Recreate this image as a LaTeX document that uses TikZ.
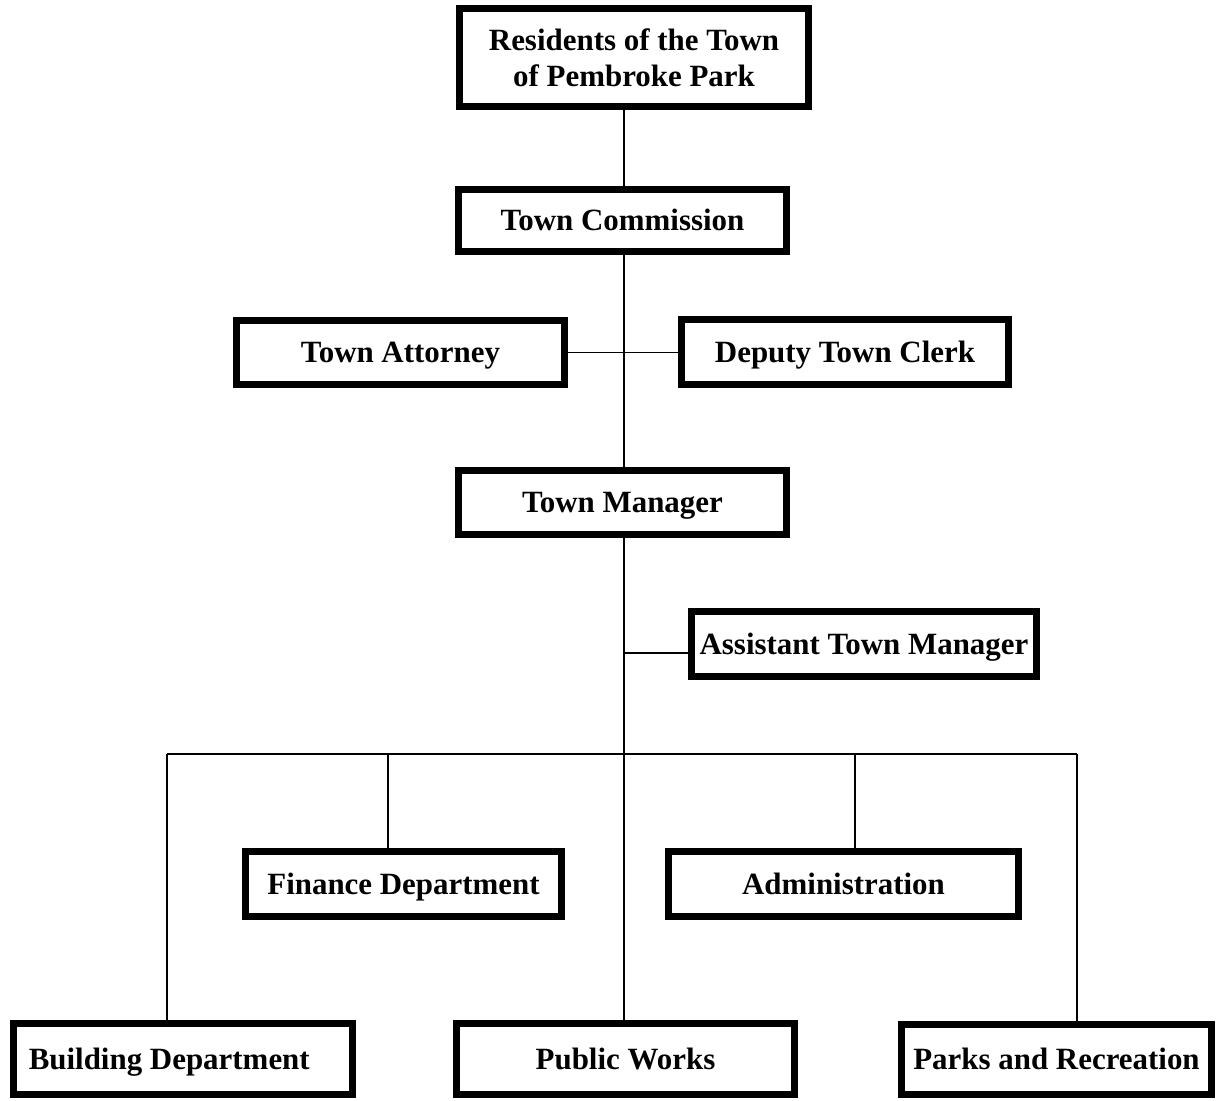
\documentclass[tikz,border=0pt]{standalone}
\usepackage{fontspec}
\setmainfont{Liberation Serif}
\begin{document}
\begin{tikzpicture}[line width=1pt,
    % Stil für die Kästen der Organe und Ämter
        office/.style={rectangle, draw=black, line width=4pt, fill=white, inner sep=0pt, outer sep=0pt, font=\fontsize{17.6}{20.5}\selectfont\bfseries},
    % einzeilige Kästen: Großbuchstaben senkrecht mittig
        unit/.style={office, text height=11.8pt, text depth=0pt},
    % Stil für die Verbindungslinien
        link/.style={draw=black, line width=1pt}]

        \useasboundingbox (0,0) rectangle (24.44,-22.02);

        % Kästen
        \node[office, align=center, minimum width=6.98cm, minimum height=1.96cm] (res) at (12.68,-1.15) {Residents of the Town\\of Pembroke Park};
        \node[unit, minimum width=6.56cm, minimum height=1.24cm] (com) at (12.45,-4.41) {Town Commission};
        \node[unit, minimum width=6.56cm, minimum height=1.28cm] (att) at (8.01,-7.05) {Town Attorney};
        \node[unit, minimum width=6.54cm, minimum height=1.30cm] (clerk) at (16.90,-7.04) {Deputy Town Clerk};
        \node[unit, minimum width=6.56cm, minimum height=1.28cm] (mgr) at (12.45,-10.05) {Town Manager};
        \node[unit, minimum width=6.90cm, minimum height=1.30cm] (asst) at (17.28,-12.88) {Assistant Town Manager};
        \node[unit, minimum width=6.32cm, minimum height=1.30cm] (fin) at (8.07,-17.68) {Finance Department};
        \node[unit, minimum width=7.00cm, minimum height=1.30cm] (admin) at (16.87,-17.68) {Administration};
        \node[unit, minimum width=6.78cm, minimum height=1.42cm] (bld) at (3.66,-21.18) {Building Department\kern0.55cm};
        \node[unit, minimum width=6.76cm, minimum height=1.42cm] (pw) at (12.51,-21.18) {Public Works};
        \node[unit, minimum width=6.20cm, minimum height=1.40cm] (parks) at (21.13,-21.19) {Parks and Recreation};

        % Knotenpunkte der Linien
        \coordinate (trunk) at (12.48,-1.15);
        \coordinate (ab) at (12.48,-13.06);
        \coordinate (jbld) at (3.34,-15.08);
        \coordinate (jfin) at (7.76,-15.08);
        \coordinate (jadmin) at (17.10,-15.08);
        \coordinate (jparks) at (21.54,-15.08);

        % Linien
        \draw[link] (trunk |- res.south) -- (trunk |- com.north);
        \draw[link] (trunk |- com.south) -- (trunk |- mgr.north);
        \draw[link] (trunk |- mgr.south) -- (trunk |- pw.north);
        \draw[link] (att.east) -- (att.east -| clerk.west);
        \draw[link] (ab) -- (ab -| asst.west);
        \draw[link] (jbld) -- (jparks);
        \foreach \n in {bld, fin, admin, parks}
            \draw[link] (j\n) -- (j\n |- \n.north);
    \end{tikzpicture}
\end{document}
